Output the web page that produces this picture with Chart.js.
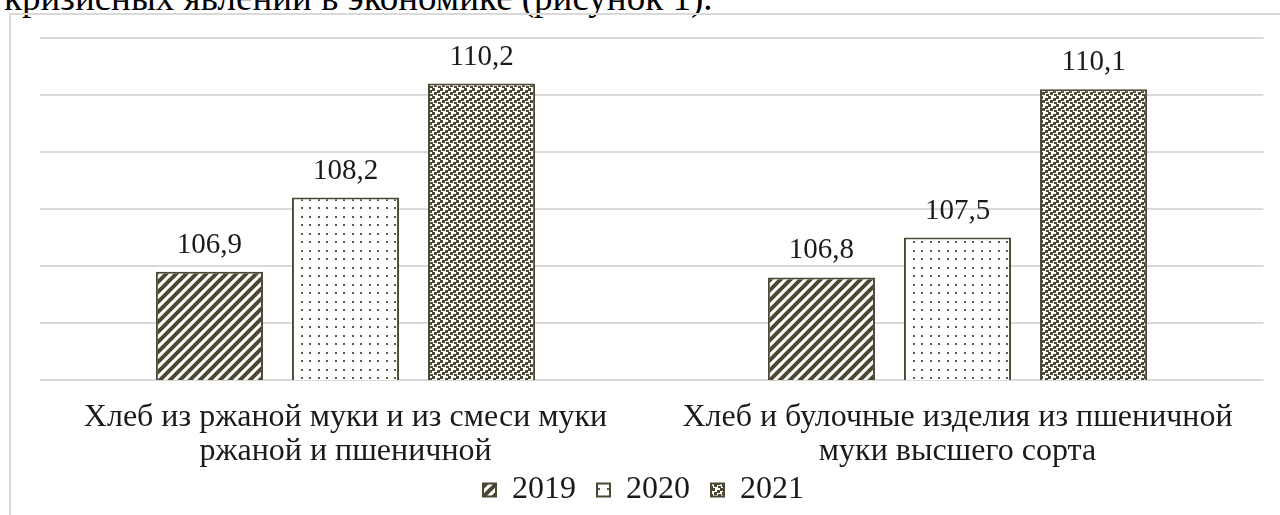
<!DOCTYPE html>
<html>
<head>
<meta charset="utf-8">
<script src="https://cdn.jsdelivr.net/npm/chart.js@4.4.1/dist/chart.umd.min.js"></script>
<style>
  html, body { margin: 0; padding: 0; background: #fff; overflow: hidden; }
  body { width: 1280px; height: 515px; position: relative; }
  #lead { position: absolute; left: 4px; top: -20px; font-family: "Liberation Serif", serif; font-size: 37px; line-height: 36px; color: #000; white-space: nowrap; }
  #frame { position: absolute; left: 9px; top: 13px; width: 1290px; height: 600px; border-left: 2px solid #d9d9d9; border-top: 2px solid #d9d9d9; }
  #wrap { position: absolute; left: 0; top: 0; width: 1280px; height: 515px; }
</style>
</head>
<body>
<div id="lead">кризисных явлений в экономике (рисунок 1).</div>
<div id="frame"></div>
<div id="wrap"><canvas id="c"></canvas></div>
<script>
const categories = [
  ["Хлеб из ржаной муки и из смеси муки", "ржаной и пшеничной"],
  ["Хлеб и булочные изделия из пшеничной", "муки высшего сорта"]
];
const seriesNames = ["2019", "2020", "2021"];
const values2019 = [106.9, 106.8];
const values2020 = [108.2, 107.5];
const values2021 = [110.2, 110.1];
const yMin = 105, yMax = 111, yStep = 1;

const INK = '#4d4833';
const FONT = '"Liberation Serif", "Times New Roman", serif';

function makePattern(size, draw) {
  const c = document.createElement('canvas');
  c.width = size[0]; c.height = size[1];
  const g = c.getContext('2d');
  g.fillStyle = '#fff';
  g.fillRect(0, 0, c.width, c.height);
  draw(g, c.width, c.height);
  return document.createElement('canvas').getContext('2d').createPattern(c, 'repeat');
}
const pStripes = makePattern([10, 10], (g, w, h) => {
  g.strokeStyle = INK; g.lineWidth = 4; g.lineCap = 'square';
  [-w, 0, w].forEach(o => {
    g.beginPath(); g.moveTo(o, h); g.lineTo(o + w, 0); g.stroke();
  });
});
const pDots = makePattern([17, 17], (g) => {
  g.fillStyle = '#5e5944';
  [[3, 3], [11.5, 3], [3, 11.5], [11.5, 11.5]].forEach(([x, y]) => g.fillRect(Math.round(x), Math.round(y), 2, 2));
});
const pConfetti = makePattern([8, 8], (g) => {
  g.fillStyle = INK;
  [[0, 0], [5, 2], [2, 4], [6, 6]].forEach(([x, y]) => g.fillRect(x, y, 3, 3));
  g.fillRect(-2, 6, 3, 3);
});

const labelPlugin = {
  id: 'valueLabels',
  afterDatasetsDraw(chart) {
    const ctx = chart.ctx;
    ctx.save();
    ctx.font = '29px ' + FONT;
    ctx.fillStyle = '#1a1a1a';
    ctx.textAlign = 'center';
    ctx.textBaseline = 'alphabetic';
    chart.data.datasets.forEach((ds, i) => {
      chart.getDatasetMeta(i).data.forEach((el, j) => {
        ctx.fillText(ds.data[j].toFixed(1).replace('.', ','), el.x, el.y - 19);
      });
    });
    ctx.restore();
  }
};

new Chart(document.getElementById('c'), {
  type: 'bar',
  data: {
    labels: categories,
    datasets: [
      { label: seriesNames[0], data: values2019, backgroundColor: pStripes, borderColor: INK, borderWidth: 2 },
      { label: seriesNames[1], data: values2020, backgroundColor: pDots, borderColor: INK, borderWidth: 2 },
      { label: seriesNames[2], data: values2021, backgroundColor: pConfetti, borderColor: INK, borderWidth: 2 }
    ]
  },
  options: {
    responsive: true,
    maintainAspectRatio: false,
    animation: false,
    devicePixelRatio: 1,
    datasets: { bar: { categoryPercentage: 0.667, barPercentage: 0.787 } },
    layout: { padding: { left: 39.5, right: 16.5, top: 38, bottom: -1 } },
    scales: {
      x: {
        grid: { display: false, drawTicks: false },
        border: { display: false },
        ticks: { color: '#1a1a1a', font: { family: FONT, size: 32, lineHeight: 1.06 }, padding: 21, maxRotation: 0, autoSkip: false },
        afterFit(s) { s.height = 89; }
      },
      y: {
        min: yMin, max: yMax,
        grid: { color: '#d9d9d9', lineWidth: 2, drawTicks: false },
        border: { display: false },
        ticks: { display: false, stepSize: yStep }
      }
    },
    plugins: {
      tooltip: { enabled: false },
      legend: {
        position: 'bottom',
        labels: {
          color: '#1a1a1a', font: { family: FONT, size: 32 }, boxWidth: 13, boxHeight: 13, padding: 5,
          generateLabels(chart) {
            const items = Chart.defaults.plugins.legend.labels.generateLabels(chart);
            items.forEach(it => { it.text = it.text + '  '; });
            return items;
          }
        }
      }
    }
  },
  plugins: [labelPlugin]
});
</script>
</body>
</html>
